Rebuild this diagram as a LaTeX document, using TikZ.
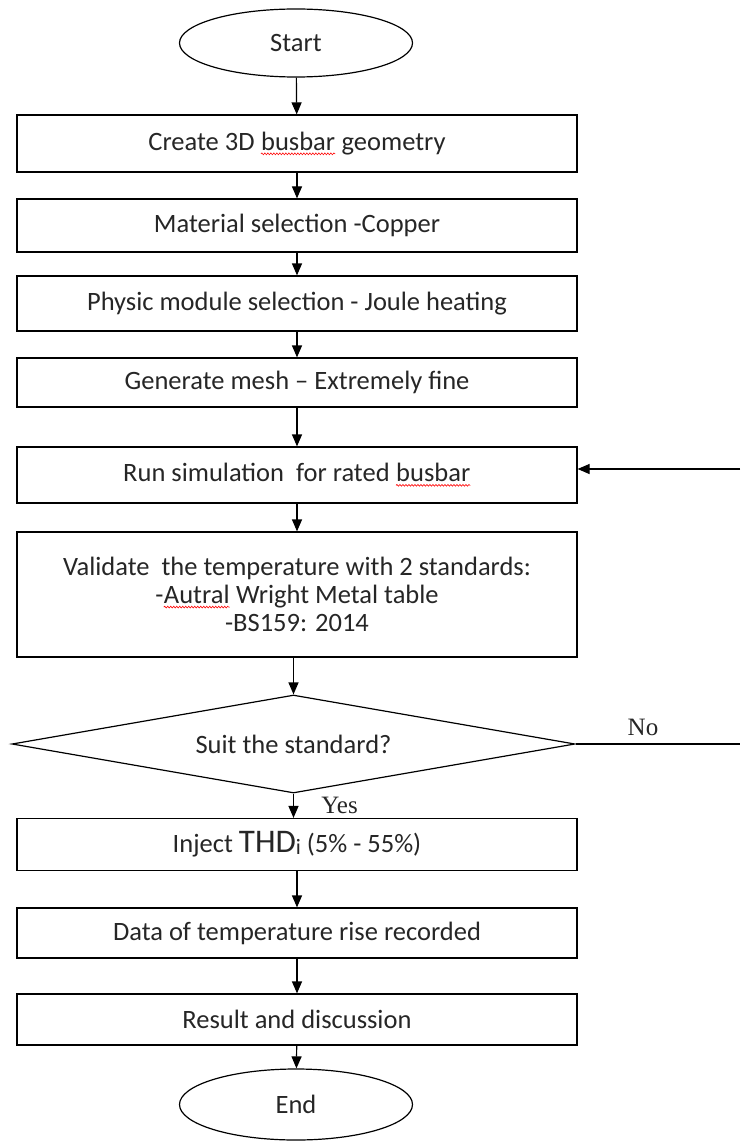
\documentclass[tikz,border=0pt]{standalone}
\usepackage{fontspec}
\setmainfont{Carlito}
\newfontfamily\labelfont{Liberation Serif}
\usetikzlibrary{shapes.geometric,arrows.meta,decorations.pathmorphing}

% red spell-check squiggle under a word
\newcommand\typo[1]{\tikz[baseline=(w.base)]{\node[shape=rectangle,draw=none,inner sep=0pt,minimum width=0pt,minimum height=0pt] (w) {#1};
		\draw[red,line width=0.6pt,decorate,decoration={snake,amplitude=0.9pt,segment length=3pt}] ([yshift=-3.5pt]w.base west) -- ([yshift=-3.5pt]w.base east);}}

\tikzset{
	procbox/.style={draw,line width=1.2pt,minimum width=560pt,inner sep=0pt,align=center,text=black!85,font=\fontsize{26.5}{28}\selectfont},
	termnode/.style={draw,ellipse,line width=1.2pt,minimum width=233pt,minimum height=68pt,inner sep=0pt,text=black!85,font=\fontsize{26.5}{28}\selectfont},
	decnode/.style={draw,diamond,aspect=5.74,line width=1.2pt,minimum width=563pt,minimum height=98pt,inner sep=0pt,text=black!85,font=\fontsize{26.5}{28}\selectfont},
	flowarrow/.style={-{Triangle[length=12pt,width=10pt]},line width=1.2pt},
	branchlabel/.style={text=black!85,font=\labelfont\fontsize{25}{25}\selectfont}
}

\begin{document}
\begin{tikzpicture}[x=1pt,y=1pt]
		\useasboundingbox (0,0) rectangle (740,-1142);
		\node[termnode] (start) at (296,-43) {Start};
		\node[procbox,minimum height=57pt] (geom) at (297,-143.5) {Create 3D \typo{busbar} geometry};
		\node[procbox,minimum height=53pt] (material) at (297,-225.5) {Material selection -Copper};
		\node[procbox,minimum height=55pt] (physic) at (297,-303.5) {Physic module selection - Joule heating};
		\node[procbox,minimum height=49pt] (mesh) at (297,-382.5) {Generate mesh -- Extremely fine};
		\node[procbox,minimum height=56pt] (run) at (297,-475) {Run simulation\ \ for rated \typo{busbar}};
		\node[procbox,minimum height=125pt] (validate) at (297,-594.5) {Validate\ \ the temperature with 2 standards:\\-\typo{Autral} Wright Metal table\\-BS159: 2014};
		\node[decnode] (suit) at (293.5,-744) {Suit the standard?};
		\node[procbox,minimum height=52pt] (inject) at (297,-844.5) {Inject {\fontsize{33}{33}\selectfont THD}\raisebox{-2pt}{\fontsize{22}{22}\selectfont i} (5\% - 55\%)};
		\node[procbox,minimum height=50pt] (data) at (297,-933) {Data of temperature rise recorded};
		\node[procbox,minimum height=51pt] (result) at (297,-1019.5) {Result and discussion};
		\node[termnode,minimum height=71pt] (end) at (296,-1104.5) {End};
		
		\draw[flowarrow] (start) -- (geom);
		\draw[flowarrow] (geom) -- (material);
		\draw[flowarrow] (material) -- (physic);
		\draw[flowarrow] (physic) -- (mesh);
		\draw[flowarrow] (mesh) -- (run);
		\draw[flowarrow] (run) -- (validate);
		\draw[flowarrow] (suit.north |- validate.south) -- (suit.north);
		\draw[flowarrow] (suit.south) -- node[branchlabel,right=24pt]{Yes} (inject.north -| suit.south);
		\draw[flowarrow] (inject) -- (data);
		\draw[flowarrow] (data) -- (result);
		\draw[flowarrow] (result) -- (end);
		
		% loop back (cut at the right edge)
		\coordinate (noout) at (740,-744);
		\coordinate (retin) at (740,-469);
		\draw[line width=1.2pt] (suit.east) -- node[branchlabel,above=4pt,pos=0.41]{No} (noout);
		\draw[flowarrow] (retin) -- (run.east |- retin);
	\end{tikzpicture}
\end{document}
